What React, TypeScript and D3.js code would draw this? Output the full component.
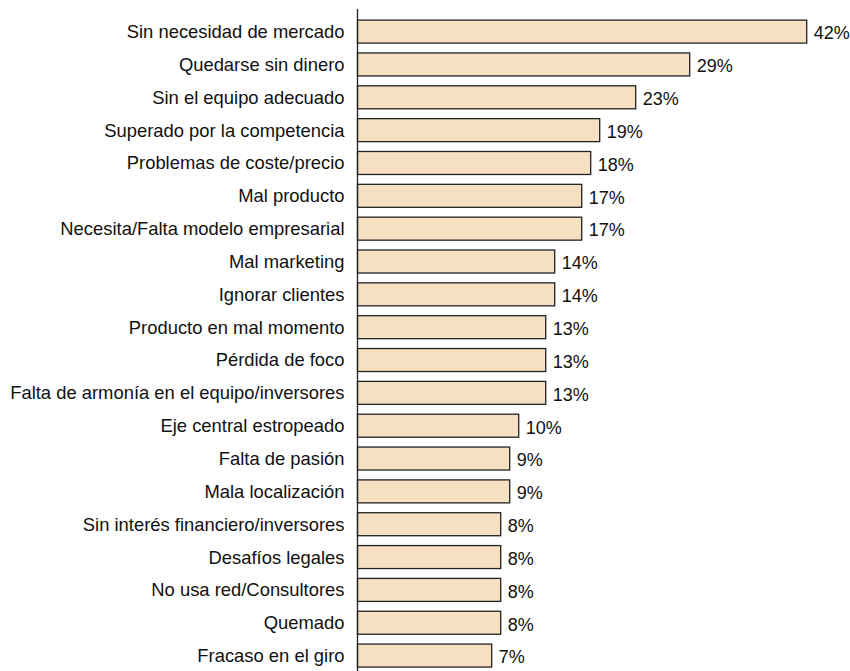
import React from "react";
import * as d3 from "d3";

const categories = [
  "Sin necesidad de mercado",
  "Quedarse sin dinero",
  "Sin el equipo adecuado",
  "Superado por la competencia",
  "Problemas de coste/precio",
  "Mal producto",
  "Necesita/Falta modelo empresarial",
  "Mal marketing",
  "Ignorar clientes",
  "Producto en mal momento",
  "Pérdida de foco",
  "Falta de armonía en el equipo/inversores",
  "Eje central estropeado",
  "Falta de pasión",
  "Mala localización",
  "Sin interés financiero/inversores",
  "Desafíos legales",
  "No usa red/Consultores",
  "Quemado",
  "Fracaso en el giro",
];

const values = [42, 29, 23, 19, 18, 17, 17, 14, 14, 13, 13, 13, 10, 9, 9, 8, 8, 8, 8, 7];

const W = 850;
const H = 671;
const axisX = 357.5;

export default function App() {
  const x = d3.scaleLinear().domain([0, 42]).range([71.2, 449.2]);
  const y = d3
    .scaleBand<string>()
    .domain(categories)
    .range([15.2, 15.2 + 32.84 * categories.length])
    .paddingInner(0.3)
    .paddingOuter(0.15);
  const font = "'Liberation Sans', Arial, sans-serif";
  return (
    <svg
      width={W}
      height={H}
      style={{ position: "absolute", left: 0, top: 0, background: "#fff" }}
      fontFamily={font}
    >
      <g transform={`translate(${axisX},0)`}>
        {categories.map((c, i) => {
          const yy = y(c)!;
          const bw = y.bandwidth();
          return (
            <g key={c}>
              <rect
                x={0}
                y={yy}
                width={x(values[i])}
                height={bw}
                fill="#f5e1c1"
                stroke="#222"
                strokeWidth={1.3}
              />
              <text
                x={-13}
                y={yy + bw / 2}
                dy="0.35em"
                textAnchor="end"
                fontSize={18.4}
                fill="#111"
              >
                {c}
              </text>
              <text
                x={x(values[i]) + 7}
                y={yy + bw / 2 + 1.5}
                dy="0.35em"
                textAnchor="start"
                fontSize={18}
                fill="#111"
              >
                {values[i]}%
              </text>
            </g>
          );
        })}
        <line x1={0} x2={0} y1={9} y2={H} stroke="#222" strokeWidth={1.3} />
      </g>
    </svg>
  );
}
